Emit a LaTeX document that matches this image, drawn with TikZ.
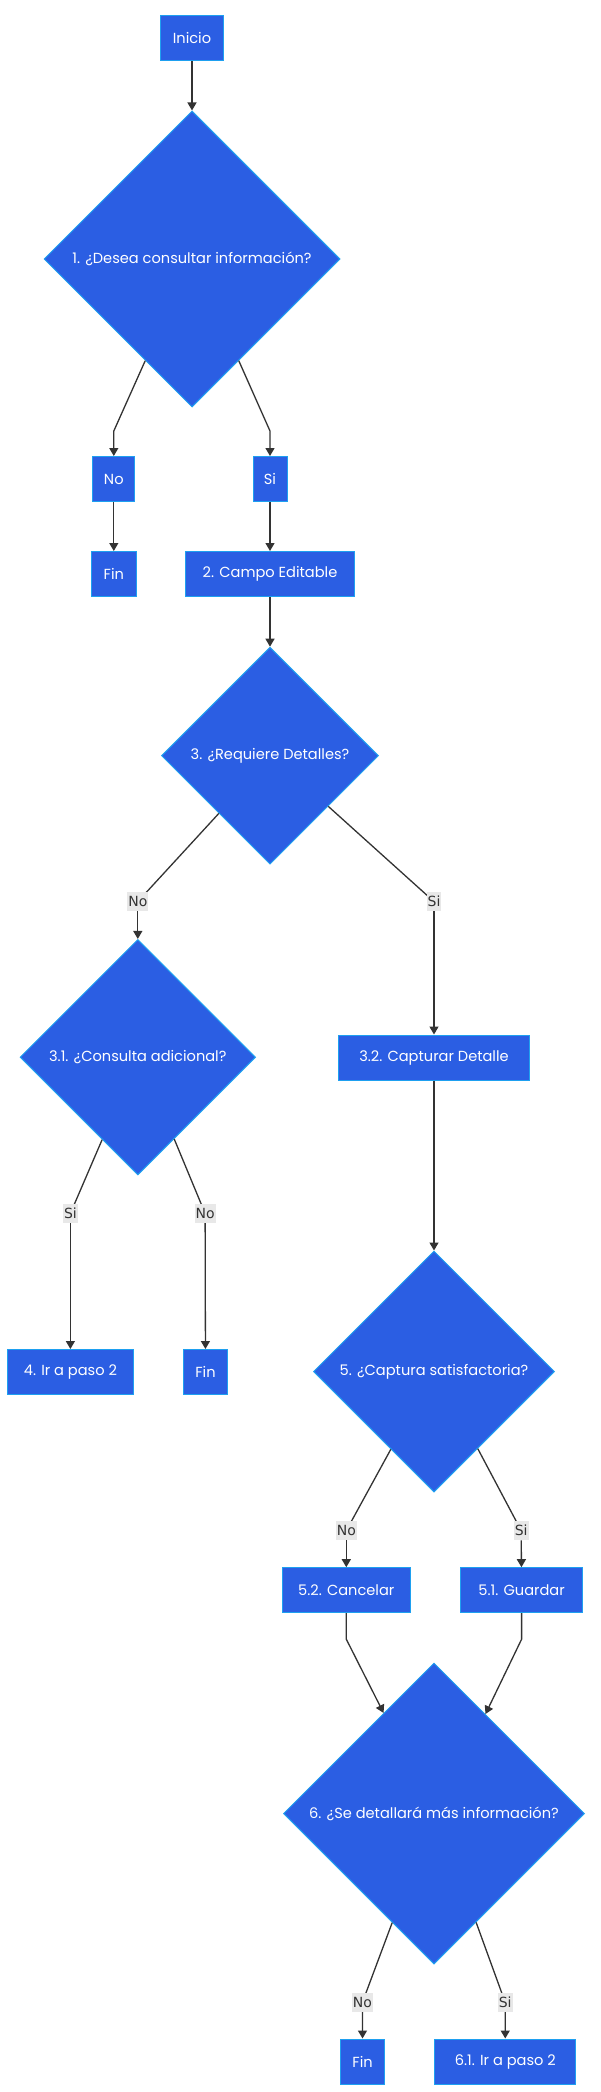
\documentclass[tikz,border=0pt]{standalone}
\usepackage{fontspec}
\setmainfont{Poppins}
\newfontfamily\lblfont{DejaVu Sans}
\usetikzlibrary{shapes.geometric,arrows.meta,calc}
\definecolor{boxfill}{RGB}{43,94,227}
\definecolor{boxline}{RGB}{30,160,240}
\definecolor{edgecol}{RGB}{51,51,51}
\definecolor{lblfill}{RGB}{232,232,232}
\begin{document}
\begin{tikzpicture}[x=1pt,y=-1pt,
  proc/.style={draw=boxline, line width=1pt, fill=boxfill, text=white, font=\fontsize{14.6}{17}\selectfont, minimum height=45pt, inner sep=0pt},
  decis/.style={diamond, draw=boxline, line width=1pt, fill=boxfill, text=white, font=\fontsize{14.6}{17}\selectfont, inner sep=0pt},
  elbl/.style={fill=lblfill, text=edgecol, font=\lblfont\fontsize{14}{16}\selectfont, inner sep=1pt, minimum height=19pt},
  conn/.style={draw=edgecol, line width=1.3pt, -{Triangle[length=8pt,width=9pt]}},
  line/.style={draw=edgecol, line width=1.3pt}]
\fill[white] (0,0) rectangle (600,2092);
\useasboundingbox (0,0) rectangle (600,2092);

% nodes
\node[proc, minimum width=63.5pt] (inicio) at (192,38.5) {Inicio};
\node[decis, minimum width=296pt, minimum height=296pt] (d1) at (192,259) {1. ¿Desea consultar información?};
\node[proc, minimum width=42pt] (no1) at (113.8,479) {No};
\node[proc, minimum width=34pt] (si1) at (270,479) {Si};
\node[proc, minimum width=44.5pt] (fin1) at (113.8,574) {Fin};
\node[proc, minimum width=169pt] (campo) at (270,574) {2. Campo Editable};
\node[decis, minimum width=217pt, minimum height=217pt] (d3) at (270,755.7) {3. ¿Requiere Detalles?};
\node[decis, minimum width=235.5pt, minimum height=235.5pt] (d31) at (137.8,1057.2) {3.1. ¿Consulta adicional?};
\node[proc, minimum width=191.4pt] (c32) at (434,1057.5) {3.2. Capturar Detalle};
\node[proc, minimum width=125.5pt] (ir2) at (70.4,1372) {4. Ir a paso 2};
\node[proc, minimum width=44.4pt] (fin2) at (205.5,1372) {Fin};
\node[decis, minimum width=241pt, minimum height=241pt] (d5) at (434,1371.5) {5. ¿Captura satisfactoria?};
\node[proc, minimum width=127.8pt] (cancel) at (346.3,1590.2) {5.2. Cancelar};
\node[proc, minimum width=122.4pt] (guardar) at (521.6,1590.2) {5.1. Guardar};
\node[decis, minimum width=301pt, minimum height=301pt] (d6) at (434,1813.5) {6. ¿Se detallará más información?};
\node[proc, minimum width=44pt] (fin3) at (362.6,2061.5) {Fin};
\node[proc, minimum width=141pt] (ir61) at (505.3,2061.5) {6.1. Ir a paso 2};

% bend points
\coordinate (b1l) at (113.8,431);
\coordinate (b1r) at (270,431);
\coordinate (b5l) at (346.3,1639.2);
\coordinate (b5r) at (521.6,1639.2);

% connectors
\draw[conn] (inicio) -- (d1);
\draw[conn] ($(d1.west)!0.685!(d1.south)$) -- (b1l) -- (no1);
\draw[conn] ($(d1.east)!0.685!(d1.south)$) -- (b1r) -- (si1);
\draw[conn] (no1) -- (fin1);
\draw[conn] (si1) -- (campo);
\draw[conn] (campo) -- (d3);

\node[elbl] (l3n) at (137.8,901.6) {No};
\node[elbl] (l3s) at (434,901.6) {Si};
\draw[line] ($(d3.west)!0.53!(d3.south)$) -- (l3n.center);
\draw[conn] (l3n) -- (d31);
\draw[line] ($(d3.east)!0.465!(d3.south)$) -- (l3s.center);
\draw[conn] (l3s) -- (c32);
\node[elbl] at (137.8,901.6) {No};
\node[elbl] at (434,901.6) {Si};

\node[elbl] (l31s) at (70.4,1213.4) {Si};
\node[elbl] (l31n) at (205.1,1213.4) {No};
\draw[line] ($(d31.west)!0.698!(d31.south)$) -- (l31s.center);
\draw[conn] (l31s) -- (ir2);
\draw[line] ($(d31.east)!0.692!(d31.south)$) -- (l31n.center);
\draw[conn] (l31n) -- (fin2);
\node[elbl] at (70.4,1213.4) {Si};
\node[elbl] at (205.1,1213.4) {No};

\draw[conn] (c32) -- (d5);

\node[elbl] (l5n) at (346.3,1530.6) {No};
\node[elbl] (l5s) at (521.2,1530.6) {Si};
\draw[line] ($(d5.west)!0.643!(d5.south)$) -- (l5n.center);
\draw[conn] (l5n) -- (cancel);
\draw[line] ($(d5.east)!0.638!(d5.south)$) -- (l5s.center);
\draw[conn] (l5s) -- (guardar);
\node[elbl] at (346.3,1530.6) {No};
\node[elbl] at (521.2,1530.6) {Si};

\draw[conn] (cancel) -- (b5l) -- ($(d6.north)!0.334!(d6.west)$);
\draw[conn] (guardar) -- (b5r) -- ($(d6.north)!0.341!(d6.east)$);

\node[elbl] (l6n) at (362.4,2002.4) {No};
\node[elbl] (l6s) at (505.2,2002.4) {Si};
\draw[line] ($(d6.west)!0.723!(d6.south)$) -- (l6n.center);
\draw[conn] (l6n) -- (fin3);
\draw[line] ($(d6.east)!0.721!(d6.south)$) -- (l6s.center);
\draw[conn] (l6s) -- (ir61);
\node[elbl] at (362.4,2002.4) {No};
\node[elbl] at (505.2,2002.4) {Si};
\end{tikzpicture}
\end{document}
